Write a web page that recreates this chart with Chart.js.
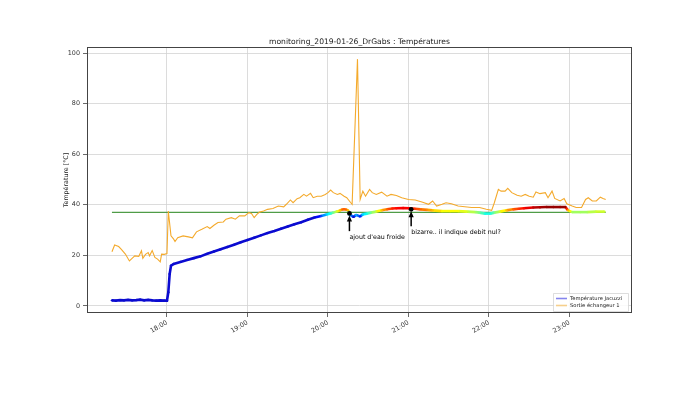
<!DOCTYPE html>
<html>
<head>
<meta charset="utf-8">
<script src="https://cdn.jsdelivr.net/npm/chart.js@4.4.0/dist/chart.umd.min.js"></script>
<style>
  html, body { margin: 0; padding: 0; background: #fff; }
  #wrap { width: 700px; height: 393px; }
</style>
</head>
<body>
<div id="wrap"><canvas id="chart" width="700" height="393"></canvas></div>
<script>
// Température Jacuzzi
const jacuzziTimes = ['17:19','17:22','17:25','17:28','17:31','17:34','17:37','17:40','17:43','17:46','17:49','17:52','17:55','17:58',
  '18:00','18:01','18:02','18:03','18:05','18:10','18:15','18:20','18:25','18:30','18:35','18:40','18:45','18:50','18:55',
  '19:00','19:05','19:10','19:15','19:20','19:25','19:30','19:35','19:40','19:45','19:50','19:55','19:59',
  '20:02','20:04','20:07','20:09','20:11','20:13','20:15','20:16','20:19','20:21','20:24','20:26','20:29','20:32','20:36','20:40','20:44','20:48','20:51','20:56',
  '21:01','21:05','21:09','21:14','21:18','21:25','21:31','21:37','21:44','21:50','21:53','21:57',
  '22:01','22:04','22:08','22:13','22:18','22:22','22:26','22:33','22:38','22:43','22:48','22:53','22:57','22:59',
  '23:02','23:08','23:13','23:20','23:26'];
const jacuzziValues = [2.2,2.1,2.3,2.2,2.4,2.2,2.3,2.5,2.2,2.4,2.2,2.1,2.2,2.1,
  2.1,5.4,12.6,15.9,16.6,17.4,18.2,18.9,19.6,20.6,21.5,22.4,23.3,24.2,25.2,
  26.1,27.0,27.9,28.8,29.6,30.5,31.4,32.3,33.1,34.1,35.0,35.6,36.2,
  36.6,36.9,37.4,37.8,38.2,38.2,37.8,36.2,35.2,36.0,35.4,36.2,36.5,36.9,37.3,37.8,38.2,38.5,38.6,38.7,
  38.6,38.4,38.2,38.0,37.8,37.5,37.5,37.5,37.3,37.1,36.9,36.5,
  36.5,36.9,37.3,37.8,38.2,38.4,38.6,38.9,39.0,39.1,39.1,39.1,39.1,37.8,
  37.1,37.1,37.1,37.3,37.3];

// Sortie échangeur 1
const sortieTimes = ['17:19','17:21','17:24','17:26','17:29','17:32','17:34','17:36','17:39','17:41','17:42','17:44','17:46','17:47','17:49','17:51','17:53','17:55','17:56','17:58',
  '18:00','18:01','18:03','18:05','18:06','18:08','18:12','18:16','18:19','18:22','18:26','18:30','18:32','18:35','18:38','18:42','18:44','18:48','18:51','18:54','18:58',
  '19:01','19:03','19:05','19:07','19:09','19:12','19:15','19:19','19:23','19:27','19:29','19:32','19:34','19:37','19:39','19:42','19:44','19:47','19:49','19:52','19:55','19:58',
  '20:00','20:02','20:04','20:07','20:09','20:12','20:14','20:17','20:18','20:22','20:24','20:26','20:28','20:31','20:33','20:36','20:40','20:44','20:47','20:51','20:55',
  '21:00','21:05','21:10','21:15','21:18','21:21','21:25','21:28','21:32','21:37','21:42','21:47','21:53','21:58',
  '22:02','22:04','22:07','22:09','22:12','22:14','22:17','22:21','22:24','22:27','22:30','22:33','22:35','22:38','22:42','22:44','22:47','22:49','22:53','22:56','22:58',
  '23:02','23:05','23:09','23:12','23:14','23:17','23:20','23:23','23:25','23:27'];
const sortieValues = [21.4,24.1,23.5,22.4,20.5,17.8,18.8,19.8,19.6,21.8,18.8,20.4,21.1,19.8,21.9,19.2,18.5,17.4,20.5,20.4,
  20.7,37.5,27.7,26.4,25.5,27.0,27.7,27.3,26.9,29.3,30.3,31.4,30.6,31.9,33.0,33.2,34.3,34.9,34.3,35.6,35.6,
  36.9,36.6,34.9,36.2,37.1,37.5,38.2,38.5,39.5,39.2,40.2,41.9,40.8,42.4,42.8,44.1,43.4,44.5,42.8,43.4,43.4,44.1,
  44.8,45.8,44.8,44.1,44.5,43.4,42.8,40.8,40.2,97.6,42.1,45.4,43.4,46.1,44.8,44.1,45.0,43.4,44.1,43.7,42.8,
  42.1,41.9,41.1,40.2,41.5,39.5,40.2,40.8,40.4,39.5,39.2,38.9,38.9,38.2,
  37.8,40.8,46.1,45.4,45.4,46.5,44.8,43.8,43.4,44.1,43.4,43.0,45.1,44.4,44.8,42.8,45.4,42.5,41.5,42.5,40.4,
  39.5,38.9,38.9,42.1,42.8,41.5,41.5,43.0,42.5,42.1];

// consigne 37 °C
const consigneTimes = ['17:19', '23:27'];
const consigneValues = [37, 37];

const xTickTimes = ['18:00', '19:00', '20:00', '21:00', '22:00', '23:00'];
const yTickValues = [0, 20, 40, 60, 80, 100];

// annotations
const noteTimes = ['20:16', '21:02'];
const noteValues = [36.6, 38.2];
const noteTextValues = [27.2, 29.1];
const noteTexts = ["ajout d'eau froide", 'bizarre.. il indique debit nul?'];

const seriesLabels = ['Température Jacuzzi', 'Sortie échangeur 1'];
const legendColors = ['#8585ee', '#f6cf8c'];

// "HH:MM" -> minutes
function toMin(t) {
  const p = t.split(':');
  return parseInt(p[0]) * 60 + parseInt(p[1]);
}
function fmtMin(m) {
  const h = Math.floor(m / 60), mm = Math.round(m % 60);
  return String(h).padStart(2, '0') + ':' + String(mm).padStart(2, '0');
}
function toPoints(times, values) {
  return times.map((t, i) => ({ x: toMin(t), y: values[i] }));
}

// jet colormap for the temperature
function clip(v) { return Math.max(0, Math.min(1, v)); }
function tempColor(v) {
  if (v < 35.3) return '#0b0bd0';
  const t = clip((v - 34.7) / 4.5);
  const r = clip(1.5 - Math.abs(4 * t - 3));
  const g = clip(1.5 - Math.abs(4 * t - 2));
  const b = clip(1.5 - Math.abs(4 * t - 1));
  return `rgb(${Math.round(r * 255)},${Math.round(g * 255)},${Math.round(b * 255)})`;
}

const FONT = "'DejaVu Sans', sans-serif";

// draws title, frame, legend and notes
const decorPlugin = {
  id: 'decor',
  afterDatasetsDraw(chart) {
    const { ctx, chartArea: a, scales: { x, y } } = chart;
    ctx.save();

    // frame
    ctx.strokeStyle = '#444';
    ctx.lineWidth = 1;
    ctx.strokeRect(a.left + 0.5, a.top + 0.5, a.right - a.left - 1, a.bottom - a.top - 1);

    // notes with arrows
    ctx.fillStyle = '#000';
    ctx.strokeStyle = '#000';
    ctx.font = '6.3px ' + FONT;
    ctx.textBaseline = 'middle';
    ctx.textAlign = 'left';
    noteTimes.forEach((t, i) => {
      const px = x.getPixelForValue(toMin(t));
      const py = y.getPixelForValue(noteValues[i]);
      const ty = y.getPixelForValue(noteTextValues[i]);
      ctx.beginPath();
      ctx.arc(px, py, 2.4, 0, Math.PI * 2);
      ctx.fill();
      ctx.lineWidth = 1.5;
      ctx.beginPath();
      ctx.moveTo(px, ty - 6);
      ctx.lineTo(px, py + 5);
      ctx.stroke();
      ctx.beginPath();
      ctx.moveTo(px, py + 2);
      ctx.lineTo(px - 2.6, py + 8);
      ctx.lineTo(px + 2.6, py + 8);
      ctx.closePath();
      ctx.fill();
      ctx.fillText(noteTexts[i], px, ty);
    });

    // title
    ctx.fillStyle = '#222';
    ctx.font = '7.6px ' + FONT;
    ctx.textAlign = 'center';
    ctx.textBaseline = 'alphabetic';
    ctx.fillText('monitoring_2019-01-26_DrGabs : Températures', (a.left + a.right) / 2, a.top - 3.5);

    // y axis title
    ctx.font = '6.3px ' + FONT;
    ctx.save();
    ctx.translate(66, (a.top + a.bottom) / 2);
    ctx.rotate(-Math.PI / 2);
    ctx.textBaseline = 'middle';
    ctx.fillText('Température [°C]', 0, 0);
    ctx.restore();

    // legend
    const lx = a.right - 79, ly = a.bottom - 20, lw = 75, lh = 18;
    ctx.fillStyle = 'rgba(255,255,255,0.85)';
    ctx.strokeStyle = '#d4d4d4';
    ctx.lineWidth = 0.8;
    ctx.beginPath();
    ctx.rect(lx + 0.5, ly + 0.5, lw, lh);
    ctx.fill();
    ctx.stroke();
    ctx.font = '5.2px ' + FONT;
    ctx.textAlign = 'left';
    ctx.textBaseline = 'middle';
    seriesLabels.forEach((lab, i) => {
      const yy = ly + 5.5 + i * 7;
      ctx.strokeStyle = legendColors[i];
      ctx.lineWidth = 1.6;
      ctx.beginPath();
      ctx.moveTo(lx + 3, yy);
      ctx.lineTo(lx + 14, yy);
      ctx.stroke();
      ctx.fillStyle = '#222';
      ctx.fillText(lab, lx + 17, yy);
    });

    ctx.restore();
  }
};

new Chart(document.getElementById('chart'), {
  type: 'line',
  data: {
    datasets: [
      {
        label: seriesLabels[0],
        data: toPoints(jacuzziTimes, jacuzziValues),
        borderColor: '#0b0bd0',
        borderWidth: 2.6,
        pointRadius: 1.2,
        pointBorderWidth: 0,
        pointBackgroundColor: c => tempColor(c.raw ? c.raw.y : 0),
        segment: {
          borderColor: c => tempColor((c.p0.parsed.y + c.p1.parsed.y) / 2)
        },
        tension: 0,
        order: 0
      },
      {
        label: seriesLabels[1],
        data: toPoints(sortieTimes, sortieValues),
        borderColor: '#f4aa2c',
        borderWidth: 1.1,
        pointRadius: 0,
        tension: 0,
        order: 1
      },
      {
        label: 'consigne',
        data: toPoints(consigneTimes, consigneValues),
        borderColor: '#4f9c47',
        borderWidth: 1.2,
        pointRadius: 0,
        order: 2
      }
    ]
  },
  options: {
    responsive: false,
    animation: false,
    devicePixelRatio: 1,
    layout: { padding: { left: 0, top: 47, right: 68, bottom: 0 } },
    plugins: {
      legend: { display: false },
      tooltip: { enabled: false },
      title: { display: false }
    },
    scales: {
      x: {
        type: 'linear',
        min: 1020.4,
        max: 1426.6,
        afterBuildTicks: s => { s.ticks = xTickTimes.map(t => ({ value: toMin(t) })); },
        afterFit: s => { s.height = 80; },
        grid: { color: '#d3d3d3', lineWidth: 0.8, tickLength: 4, drawTicks: true, tickColor: '#444' },
        border: { display: false },
        ticks: {
          callback: v => fmtMin(v),
          maxRotation: 30,
          minRotation: 30,
          padding: 2,
          color: '#333',
          font: { family: FONT, size: 6.4 }
        }
      },
      y: {
        min: -2.8,
        max: 102.4,
        afterBuildTicks: s => { s.ticks = yTickValues.map(v => ({ value: v })); },
        afterFit: s => { s.width = 87; },
        grid: { color: '#d3d3d3', lineWidth: 0.8, tickLength: 4, drawTicks: true, tickColor: '#444' },
        border: { display: false },
        ticks: {
          padding: 3,
          color: '#333',
          font: { family: FONT, size: 6.4 }
        }
      }
    }
  },
  plugins: [decorPlugin]
});
</script>
</body>
</html>
